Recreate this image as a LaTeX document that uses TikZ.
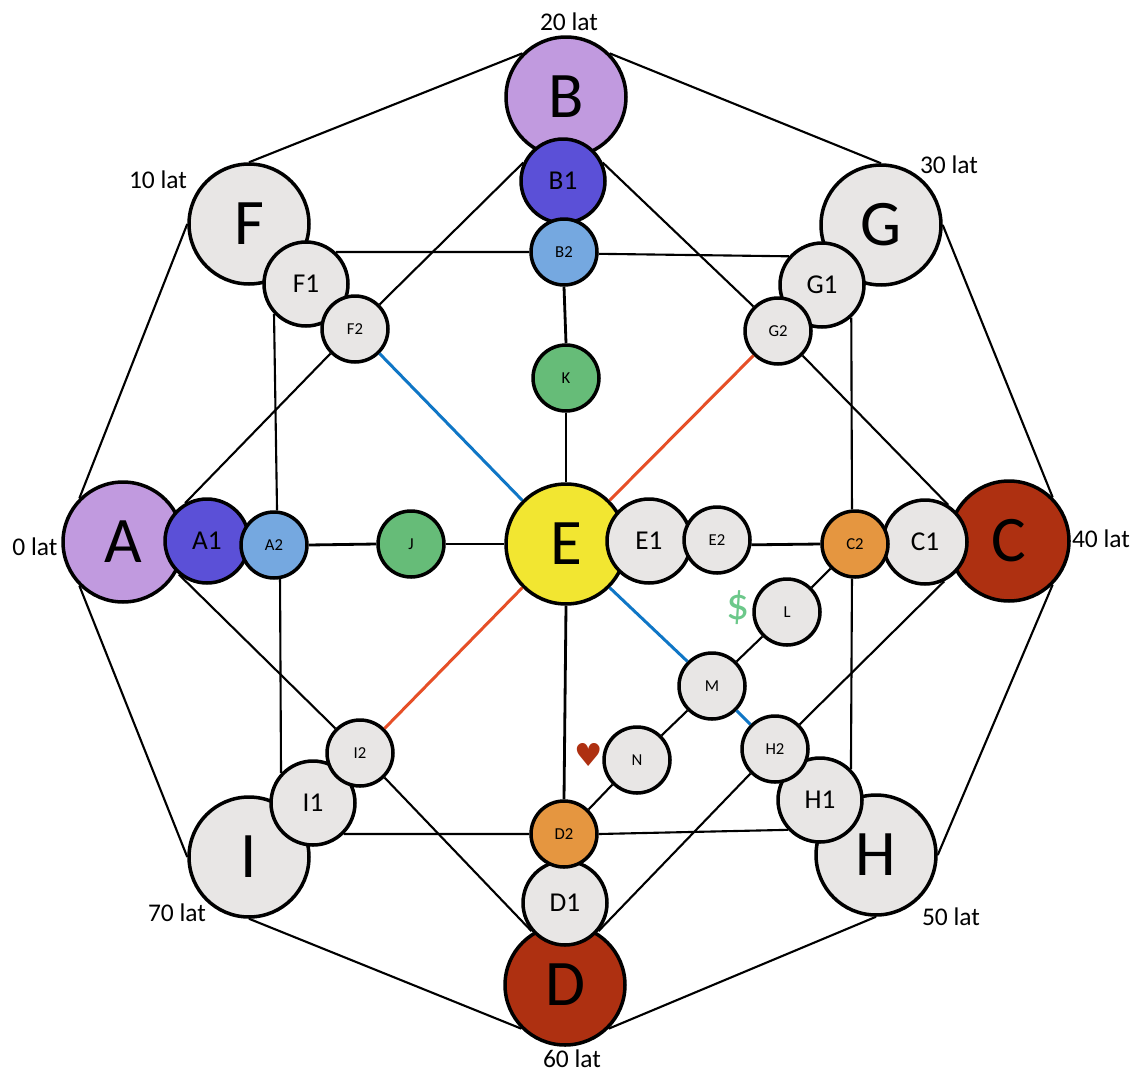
\documentclass[tikz,border=0pt]{standalone}
\usepackage{fontspec}
\setmainfont{Carlito}
\newfontfamily\symfont{DejaVu Sans}
\usepackage{color}
\definecolor{lilac}{HTML}{C19ADF}
\definecolor{indigo}{HTML}{5B50D7}
\definecolor{skyblue}{HTML}{75A8E0}
\definecolor{leaf}{HTML}{66BC78}
\definecolor{sun}{HTML}{F2E631}
\definecolor{amber}{HTML}{E59640}
\definecolor{rust}{HTML}{AE3011}
\definecolor{stone}{HTML}{E8E6E5}
\definecolor{rayblue}{HTML}{0F76C6}
\definecolor{rayred}{HTML}{E64F27}
\definecolor{dollar}{HTML}{6CC88A}
\tikzset{
  bigdot/.style={circle, draw=black, line width=2pt, inner sep=0pt,
    minimum size=2.4cm, fill=stone, font=\fontsize{37}{37}\selectfont},
  middot/.style={circle, draw=black, line width=2pt, inner sep=0pt,
    minimum size=1.68cm, fill=stone, font=\fontsize{15.5}{15.5}\selectfont},
  smalldot/.style={circle, draw=black, line width=2pt, inner sep=0pt,
    minimum size=1.32cm, fill=stone, font=\fontsize{9.5}{9.5}\selectfont},
  link/.style={draw=black, line width=1.2pt},
  spoke/.style={draw=black, line width=1.6pt},
  bluespoke/.style={draw=rayblue, line width=1.7pt},
  redspoke/.style={draw=rayred, line width=1.7pt},
  yearlabel/.style={font=\fontsize{14.5}{14.5}\selectfont, inner sep=0pt},
}

\begin{document}
\begin{tikzpicture}[x=0.02cm,y=-0.02cm]
    \useasboundingbox (0,0) rectangle (1135,1075);

    \foreach \n/\x/\y/\c in {A/123/542/lilac,B/566/97/lilac,C/1009/541/rust,D/565/985/rust,
        E/566/544/sun,F/249/224/stone,G/881/225/stone,H/876/855/stone,I/249/857/stone}
        \node[bigdot, fill=\c] (\n) at (\x,\y) {\n};

    \foreach \n/\x/\y/\c in {A1/207/541/indigo,B1/563/181/indigo,C1/925/542/stone,D1/565/903/stone,
        E1/649/541/stone,F1/306/284/stone,G1/822/285/stone,H1/820/800/stone,I1/313/803/stone}
        \node[middot, fill=\c] (\n) at (\x,\y) {\n};

    \foreach \n/\x/\y/\c in {A2/274/545/skyblue,B2/564/252/skyblue,C2/855/544/amber,D2/564/834/amber,
        E2/717/540/stone,F2/355/329/stone,G2/778/331/stone,H2/775/749/stone,I2/360/753/stone,
        J/411/544/leaf,K/566/378/leaf,L/787/612/stone,M/712/686/stone,N/637/760/stone}
        \node[smalldot, fill=\c] (\n) at (\x,\y) {\n};

    % outer ring
    \draw[link] (A.135) -- (F.west);
    \draw[link] (F.north) -- (B.135);
    \draw[link] (B.45) -- (G.north);
    \draw[link] (G.east) -- (C.45);
    \draw[link] (C.-45) -- (H.east);
    \draw[link] (H.south) -- (D.-45);
    \draw[link] (D.-135) -- (I.south);
    \draw[link] (I.west) -- (A.-135);

    % middle ring
    \draw[link] (A1.120) -- (F2.-135);
    \draw[link] (F2.45) -- (B1.155);
    \draw[link] (B1.25) -- (G2.135);
    \draw[link] (G2.-45) -- (C1.58);
    \draw[link] (C1.-64) -- (H2.45);
    \draw[link] (H2.-135) -- (D1.-40);
    \draw[link] (D1.-140) -- (I2.-45);
    \draw[link] (I2.135) -- (A1.-130);

    % inner ring
    \draw[link] (F1.47) -- (B2.west);
    \draw[link] (B2.-3) -- (G1.139);
    \draw[link] (G1.-48) -- (C2.95);
    \draw[link] (C2.-95) -- (H1.45);
    \draw[link] (H1.-137) -- (D2.east);
    \draw[link] (D2.west) -- (I1.-45);
    \draw[link] (I1.137) -- (A2.-80);
    \draw[link] (A2.85) -- (F1.-137);

    % through the centre
    \draw[spoke] (A2.east) -- (J.west);
    \draw[spoke] (J.east) -- (E.west);
    \draw[spoke] (E2.-8) -- (C2.west);
    \draw[spoke] (B2.south) -- (K.north);
    \draw[spoke] (K.south) -- (E.north);
    \draw[spoke] (E.south) -- (D2.north);
    \draw[bluespoke] (F2.-45) -- (E.135);
    \draw[bluespoke] (E.-45) -- (M.135);
    \draw[bluespoke] (M.-45) -- (H2.135);
    \draw[redspoke] (G2.-135) -- (E.45);
    \draw[redspoke] (E.-135) -- (I2.45);

    \draw[link] (C2.-135) -- (L.45);
    \draw[link] (L.-135) -- (M.45);
    \draw[link] (M.-135) -- (N.45);
    \draw[link] (N.-135) -- (D2.45);

    \node[yearlabel] (lat0) at (35,547) {0 lat};
    \node[yearlabel] (lat10) at (158,180) {10 lat};
    \node[yearlabel] (lat20) at (569,22) {20 lat};
    \node[yearlabel] (lat30) at (949,165) {30 lat};
    \node[yearlabel] (lat40) at (1101,539) {40 lat};
    \node[yearlabel] (lat50) at (951,917) {50 lat};
    \node[yearlabel] (lat60) at (572,1059) {60 lat};
    \node[yearlabel] (lat70) at (177,913) {70 lat};

    \node[text=dollar, font=\fontsize{26}{26}\selectfont, inner sep=0pt] (money) at (738,608) {\$};
    \node[text=rust, font=\symfont\fontsize{18}{18}\selectfont, inner sep=0pt] (heart) at (589,755) {♥};
\end{tikzpicture}
\end{document}
